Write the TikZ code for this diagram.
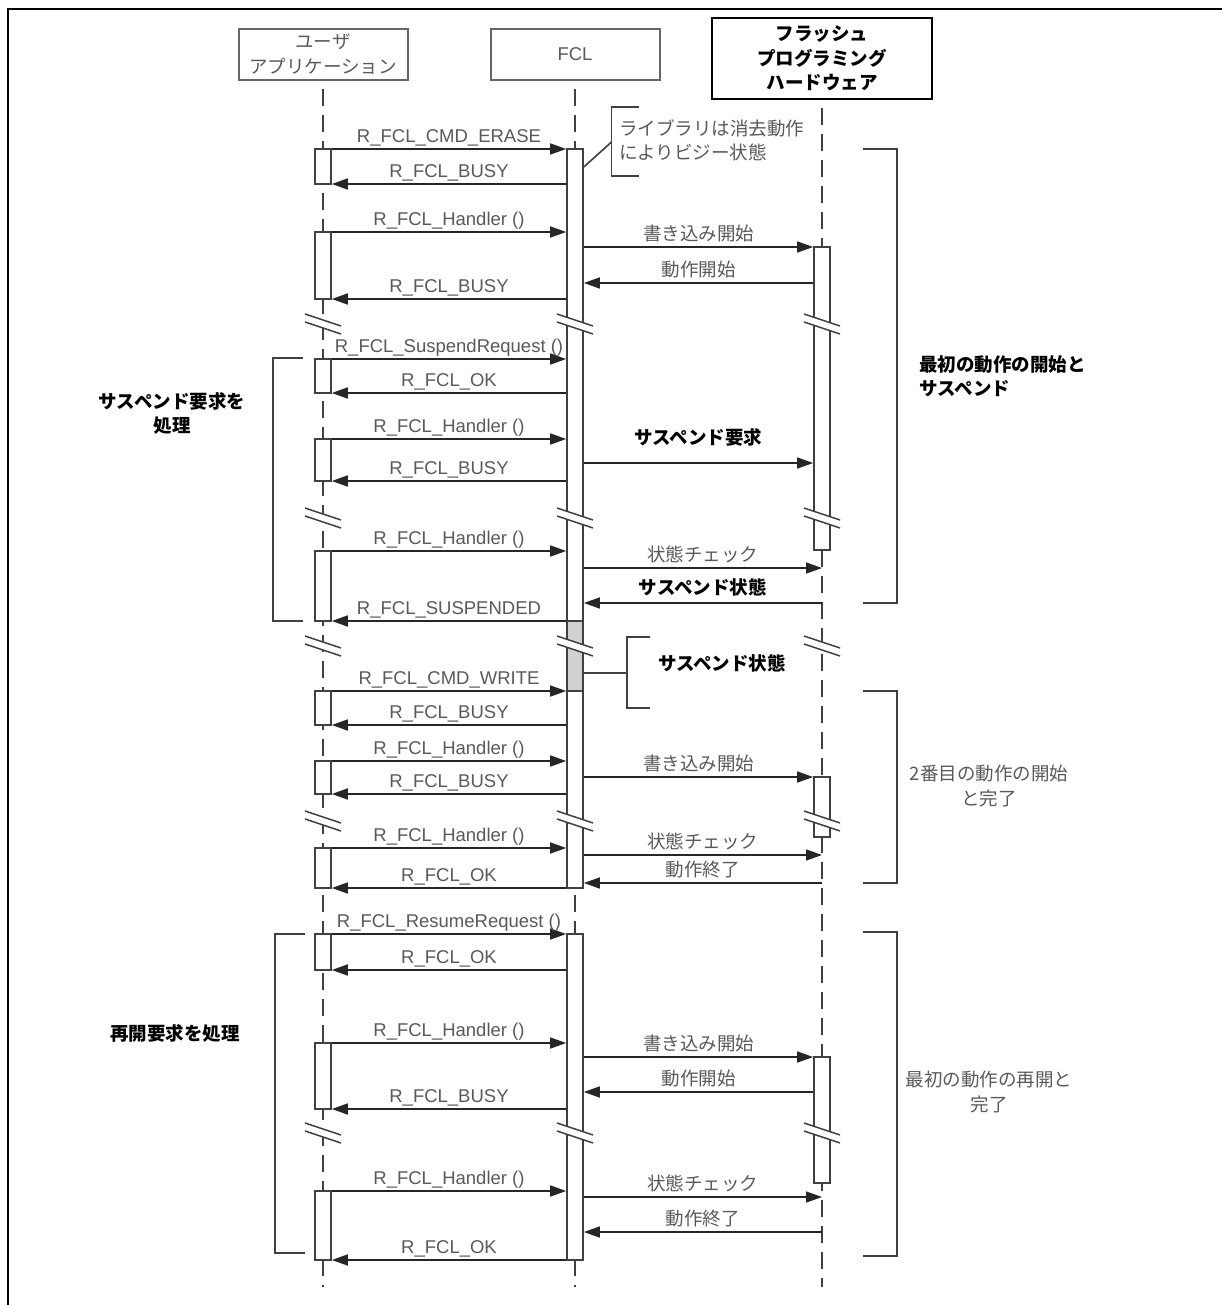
\documentclass[tikz,border=0pt]{standalone}
\usepackage{fontspec}
\setmainfont{Liberation Sans}
\newfontfamily\jp{Noto Sans CJK JP}
\usetikzlibrary{arrows.meta}

\tikzset{
  hdr/.style={draw=black!60, line width=2pt, inner sep=0pt, align=center},
  act/.style={draw=black!75, fill=white, line width=1.6pt, minimum width=16pt, inner sep=0pt},
  life/.style={draw=black!75, line width=1.9pt, dash pattern=on 17pt off 9pt},
  msg/.style={draw=black!85, line width=1.6pt, -{Triangle[length=16pt,width=11pt]}},
  lab/.style={font=\fontsize{18.5}{24}\selectfont, text=black!65, inner sep=0pt, anchor=base, yshift=6.5pt},
  jlab/.style={lab, font=\jp\fontsize{18.5}{24}\selectfont},
  blab/.style={lab, font=\jp\bfseries\fontsize{18.5}{24}\selectfont, text=black},
  side/.style={inner sep=0pt, font=\jp\bfseries\fontsize{18.5}{23.5}\selectfont},
  gside/.style={inner sep=0pt, text=black!65, font=\jp\fontsize{18.5}{24.5}\selectfont},
  brace/.style={draw=black!75, line width=1.6pt},
  brk/.style={draw=black!75, line width=1.5pt}
}

\begin{document}
\begin{tikzpicture}[x=1pt, y=-1pt]
\useasboundingbox (0,0) rectangle (1222,1305);
% frame
\draw[line width=2.5pt] (1222,9) -- (8,9) -- (8,1305);

% heads
\node[hdr, minimum width=169pt, minimum height=51pt, text=black!65,
      font=\jp\fontsize{18.5}{25}\selectfont] (usr) at (323,54.5) {ユーザ\\アプリケーション};
\node[hdr, minimum width=169pt, minimum height=51pt, text=black!65,
      font=\fontsize{18.5}{24}\selectfont] (fcl) at (575,54.5) {FCL};
\node[hdr, draw=black, minimum width=220pt, minimum height=81pt,
      font=\jp\bfseries\fontsize{18.5}{24.5}\selectfont] (fph) at (822,58.5) {フラッシュ\\プログラミング\\ハードウェア};

% lifelines
\coordinate (bot) at (0,1287);
\draw[life] ([yshift=-8pt]usr.south) -- (usr.south |- bot);
\draw[life] ([yshift=-8pt]fcl.south) -- (fcl.south |- bot);
\draw[life] ([yshift=-8pt]fph.south) -- (fph.south |- bot);

% rows
\foreach \y in {142,149,167,184,232,247,283,299,359,393,439,463,481,551,568,603,621,
                673,691,725,761,777,794,848,855,883,888,934,970,1043,1057,1092,1109,
                1191,1197,1232,1260}
  \coordinate (r\y) at (0,\y);

% activations
\foreach \n/\x/\ya/\yb in {u1/323/149/184, u2/323/232/299, u3/323/359/393, u4/323/439/481,
    u5/323/551/621, u6/323/691/725, u7/323/761/794, u8/323/848/888, u9/323/934/970,
    u10/323/1043/1109, u11/323/1191/1260,
    f1/575/149/621, f2/575/691/888, f3/575/934/1260,
    h1/822/247/550, h2/822/777/837, h3/822/1057/1183}
  \node[act, minimum height={(\yb-\ya)*1pt}] (\n) at (\x,{(\ya+\yb)/2}) {};
\node[act, fill=black!18, minimum height=70pt] (fs) at (575,656) {};

% breaks
\foreach \y in {324,518,646,821,1133}
  \foreach \x in {323,575,822} {
    \fill[white] (\x-18,\y-10) -- (\x+18,\y+2) -- (\x+18,\y+10) -- (\x-18,\y-2) -- cycle;
    \draw[brk] (\x-18,\y-10) -- (\x+18,\y+2);
    \draw[brk] (\x-18,\y-2) -- (\x+18,\y+10);
  }

% user <-> FCL
\draw[msg] (u1.east |- r149) -- (f1.west |- r149) node[lab, midway] {R\_FCL\_CMD\_ERASE};
\draw[msg] (f1.west |- r184) -- (u1.east |- r184) node[lab, midway] {R\_FCL\_BUSY};
\draw[msg] (u2.east |- r232) -- (f1.west |- r232) node[lab, midway] {R\_FCL\_Handler ()};
\draw[msg] (f1.west |- r299) -- (u2.east |- r299) node[lab, midway] {R\_FCL\_BUSY};
\draw[msg] (u3.east |- r359) -- (f1.west |- r359) node[lab, midway] {R\_FCL\_SuspendRequest ()};
\draw[msg] (f1.west |- r393) -- (u3.east |- r393) node[lab, midway] {R\_FCL\_OK};
\draw[msg] (u4.east |- r439) -- (f1.west |- r439) node[lab, midway] {R\_FCL\_Handler ()};
\draw[msg] (f1.west |- r481) -- (u4.east |- r481) node[lab, midway] {R\_FCL\_BUSY};
\draw[msg] (u5.east |- r551) -- (f1.west |- r551) node[lab, midway] {R\_FCL\_Handler ()};
\draw[msg] (f1.west |- r621) -- (u5.east |- r621) node[lab, midway] {R\_FCL\_SUSPENDED};
\draw[msg] (u6.east |- r691) -- (f2.west |- r691) node[lab, midway] {R\_FCL\_CMD\_WRITE};
\draw[msg] (f2.west |- r725) -- (u6.east |- r725) node[lab, midway] {R\_FCL\_BUSY};
\draw[msg] (u7.east |- r761) -- (f2.west |- r761) node[lab, midway] {R\_FCL\_Handler ()};
\draw[msg] (f2.west |- r794) -- (u7.east |- r794) node[lab, midway] {R\_FCL\_BUSY};
\draw[msg] (u8.east |- r848) -- (f2.west |- r848) node[lab, midway] {R\_FCL\_Handler ()};
\draw[msg] (f2.west |- r888) -- (u8.east |- r888) node[lab, midway] {R\_FCL\_OK};
\draw[msg] (u9.east |- r934) -- (f3.west |- r934) node[lab, midway] {R\_FCL\_ResumeRequest ()};
\draw[msg] (f3.west |- r970) -- (u9.east |- r970) node[lab, midway] {R\_FCL\_OK};
\draw[msg] (u10.east |- r1043) -- (f3.west |- r1043) node[lab, midway] {R\_FCL\_Handler ()};
\draw[msg] (f3.west |- r1109) -- (u10.east |- r1109) node[lab, midway] {R\_FCL\_BUSY};
\draw[msg] (u11.east |- r1191) -- (f3.west |- r1191) node[lab, midway] {R\_FCL\_Handler ()};
\draw[msg] (f3.west |- r1260) -- (u11.east |- r1260) node[lab, midway] {R\_FCL\_OK};

% FCL <-> hardware
\draw[msg] (f1.east |- r247) -- (h1.west |- r247) node[jlab, midway] {書き込み開始};
\draw[msg] (h1.west |- r283) -- (f1.east |- r283) node[jlab, midway] {動作開始};
\draw[msg] (f1.east |- r463) -- (h1.west |- r463) node[blab, midway, yshift=12.5pt] {サスペンド要求};
\draw[msg] (f1.east |- r568) -- (fph.south |- r568) node[jlab, midway] {状態チェック};
\draw[msg] (fph.south |- r603) -- (f1.east |- r603) node[blab, midway, yshift=2.5pt] {サスペンド状態};
\draw[msg] (f2.east |- r777) -- (h2.west |- r777) node[jlab, midway] {書き込み開始};
\draw[msg] (f2.east |- r855) -- (fph.south |- r855) node[jlab, midway] {状態チェック};
\draw[msg] (fph.south |- r883) -- (f2.east |- r883) node[jlab, midway] {動作終了};
\draw[msg] (f3.east |- r1057) -- (h3.west |- r1057) node[jlab, midway] {書き込み開始};
\draw[msg] (h3.west |- r1092) -- (f3.east |- r1092) node[jlab, midway] {動作開始};
\draw[msg] (f3.east |- r1197) -- (fph.south |- r1197) node[jlab, midway] {状態チェック};
\draw[msg] (fph.south |- r1232) -- (f3.east |- r1232) node[jlab, midway] {動作終了};

% notes
\node[gside, align=left, anchor=west] (ernote) at (619,140.5) {ライブラリは消去動作\\によりビジー状態};
\draw[brace] (639,107) -- (611.5,107) -- (611.5,176) -- (639,176);
\coordinate (ertip) at (611.5,142);
\draw[brace] (f1.east |- r167) -- (ertip);

\node[side] (susnote) at (722,663) {サスペンド状態};
\draw[brace] (650,637) -- (627,637) -- (627,708) -- (650,708);
\coordinate (sustip) at (627,673);
\draw[brace] (fs.east |- r673) -- (sustip);

% brackets
\draw[brace] (303,358) -- (273,358) -- (273,621) -- (303,621);
\draw[brace] (305,934) -- (275,934) -- (275,1253) -- (305,1253);
\draw[brace] (863,149) -- (897,149) -- (897,603) -- (863,603);
\draw[brace] (863,691) -- (897,691) -- (897,883) -- (863,883);
\draw[brace] (863,932) -- (897,932) -- (897,1256) -- (863,1256);

% side labels
\node[side, align=center] (lsus) at (172,413.5) {サスペンド要求を\\処理};
\node[side] (lres) at (175,1033) {再開要求を処理};
\node[side, align=left, anchor=west] (rsus) at (919,376.5) {最初の動作の開始と\\サスペンド};
\node[gside, align=center] (rwr) at (989,786) {2番目の動作の開始\\と完了};
\node[gside, align=center] (rres) at (989,1092) {最初の動作の再開と\\完了};
\end{tikzpicture}
\end{document}
